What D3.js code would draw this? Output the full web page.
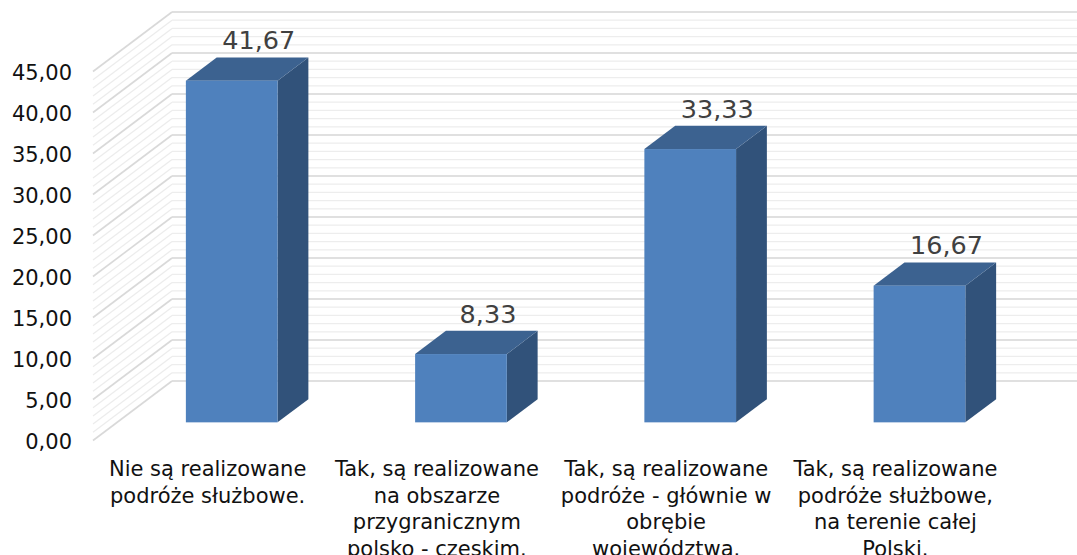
<!DOCTYPE html>
<html>
<head>
<meta charset="utf-8">
<script src="https://cdn.jsdelivr.net/npm/d3@7"></script>
<style>
  body { margin: 0; background: #fff; }
  svg { display: block; font-family: "DejaVu Sans", Verdana, sans-serif; }
</style>
</head>
<body>
<svg id="chart" width="1077" height="555"></svg>
<script>
// data
var categories = [
    "Nie są realizowane\npodróże służbowe.",
    "Tak, są realizowane\nna obszarze\nprzygranicznym\npolsko - czeskim.",
    "Tak, są realizowane\npodróże - głównie w\nobrębie\nwojewództwa.",
    "Tak, są realizowane\npodróże służbowe,\nna terenie całej\nPolski."
];
var values = [41.67, 8.33, 33.33, 16.67];
var yTicks = [0, 5, 10, 15, 20, 25, 30, 35, 40, 45];

var DEPTH_X = 79, DEPTH_Y = -59.5;   // front plane -> back wall
var BAR_FRONT = 0.305, BAR_BACK = 0.695;

var fmt = function(v) { return v.toFixed(2).replace(".", ","); };

var svg = d3.select("#chart");

var x = d3.scaleBand()
    .domain(d3.range(categories.length))
    .range([93, 1010])
    .paddingInner(0.6)
    .paddingOuter(0.3);

var y = d3.scaleLinear().domain([0, 45]).range([440.5, 71.5]);

var minor = d3.range(0, 46, 1);

// back wall
svg.append("g").selectAll("line")
    .data(minor)
    .enter()
    .append("line")
    .attr("x1", 93 + DEPTH_X)
    .attr("x2", 1077)
    .attr("y1", function(d) { return y(d) + DEPTH_Y; })
    .attr("y2", function(d) { return y(d) + DEPTH_Y; })
    .attr("stroke", function(d) { return d % 5 == 0 ? "#d6d6d6" : "#ededed"; })
    .attr("stroke-width", function(d) { return d % 5 == 0 ? 1.6 : 1.2; });

// side wall
svg.append("g").selectAll("line")
    .data(minor)
    .enter()
    .append("line")
    .attr("x1", 93)
    .attr("x2", 93 + DEPTH_X)
    .attr("y1", function(d) { return y(d); })
    .attr("y2", function(d) { return y(d) + DEPTH_Y; })
    .attr("stroke", function(d) { return d % 5 == 0 ? "#d9d9d9" : "#ececec"; })
    .attr("stroke-width", function(d) { return d % 5 == 0 ? 1.6 : 1.2; });

// bars
var fx = BAR_FRONT * DEPTH_X, fy = BAR_FRONT * DEPTH_Y;
var dx = (BAR_BACK - BAR_FRONT) * DEPTH_X, dy = (BAR_BACK - BAR_FRONT) * DEPTH_Y;

var bars = svg.append("g").selectAll("g")
    .data(values)
    .enter()
    .append("g");

function pts(a) { return a.map(function(p) { return p.join(","); }).join(" "); }

bars.append("polygon")
    .attr("points", function(d, i) {
        var l = x(i) + fx, r = l + x.bandwidth(), t = y(d) + fy, b = y(0) + fy;
        return pts([[r, t], [r + dx, t + dy], [r + dx, b + dy], [r, b]]);
    })
    .attr("fill", "#31527a");

bars.append("polygon")
    .attr("points", function(d, i) {
        var l = x(i) + fx, r = l + x.bandwidth(), t = y(d) + fy;
        return pts([[l, t], [l + dx, t + dy], [r + dx, t + dy], [r, t]]);
    })
    .attr("fill", "#3c6290");

bars.append("rect")
    .attr("x", function(d, i) { return x(i) + fx; })
    .attr("y", function(d) { return y(d) + fy; })
    .attr("width", x.bandwidth())
    .attr("height", function(d) { return y(0) - y(d); })
    .attr("fill", "#4f81bd");

bars.append("text")
    .attr("x", function(d, i) { return x(i) + fx + x.bandwidth() / 2 + 27; })
    .attr("y", function(d) { return y(d) + fy + dy - 8; })
    .attr("text-anchor", "middle")
    .attr("font-size", "25.5px")
    .attr("fill", "#404040")
    .text(function(d) { return fmt(d); });

// y axis labels
svg.append("g").selectAll("text")
    .data(yTicks)
    .enter()
    .append("text")
    .attr("x", 72)
    .attr("y", function(d) { return y(d) + 1; })
    .attr("text-anchor", "end")
    .attr("dominant-baseline", "central")
    .attr("font-size", "21px")
    .attr("fill", "#111")
    .text(fmt);

// category labels
var cat = svg.append("g").selectAll("text")
    .data(categories)
    .enter()
    .append("text")
    .attr("text-anchor", "middle")
    .attr("font-size", "21px")
    .attr("fill", "#111");

cat.selectAll("tspan")
    .data(function(d, i) {
        return d.split("\n").map(function(s) { return { s: s, i: i }; });
    })
    .enter()
    .append("tspan")
    .attr("x", function(d) { return x(d.i) + x.bandwidth() / 2; })
    .attr("y", function(d, j) { return 476 + j * 26.5; })
    .text(function(d) { return d.s; });
</script>
</body>
</html>
